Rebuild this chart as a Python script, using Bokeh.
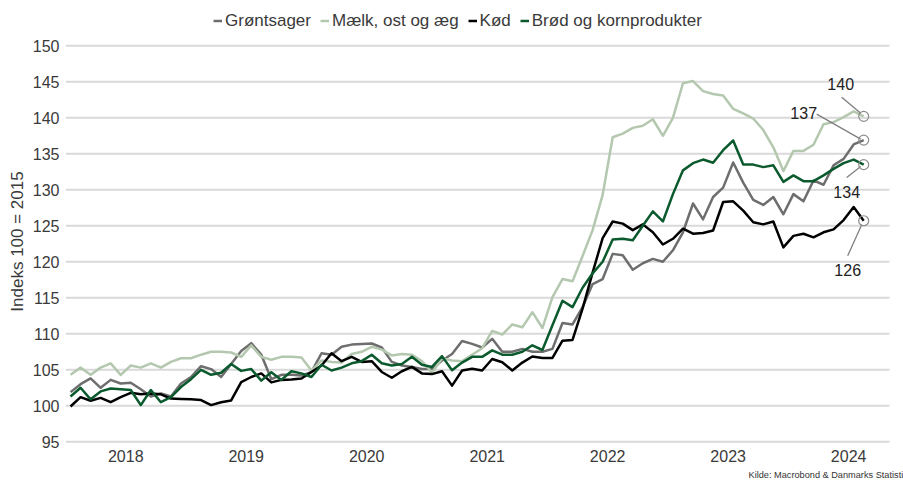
import numpy as np
from bokeh.plotting import figure
from bokeh.models import Legend, LegendItem, FixedTicker, Label, Range1d
from bokeh.embed import file_html
from bokeh.resources import INLINE
from bokeh.core.properties import value

# ---------------- data (monthly, Jan 2018 - Aug 2024, index 100 = 2015) ----------------
years = ["2018", "2019", "2020", "2021", "2022", "2023", "2024"]
series_names = ["Grøntsager", "Mælk, ost og æg", "Kød", "Brød og kornprodukter"]
y_ticks = [95, 100, 105, 110, 115, 120, 125, 130, 135, 140, 145, 150]

groentsager = [101.9, 103.0, 103.8, 102.5, 103.6, 103.1, 103.2, 102.3, 101.3, 101.7, 101.3, 103.1,
               104.0, 105.5, 105.1, 104.0, 105.8, 107.6, 108.7, 107.1, 103.7, 104.3, 104.3, 104.2,
               104.7, 107.3, 107.1, 108.2, 108.5, 108.6, 108.65, 108.1, 106.1, 105.6, 105.4, 105.1,
               105.1, 106.3, 107.2, 109.0, 108.6, 108.1, 109.3, 107.5, 107.5, 107.9, 107.5, 107.5,
               107.9, 111.5, 111.3, 113.7, 116.9, 117.6, 121.1, 120.9, 118.9, 119.8, 120.4, 120.0,
               121.6, 124.1, 128.1, 125.9, 129.0, 130.3, 133.8, 131.0, 128.6, 127.9, 129.0, 126.6,
               129.4, 128.4, 131.3, 130.7, 133.4, 134.3, 136.3, 136.9]

maelk = [104.3, 105.3, 104.3, 105.3, 105.9, 104.3, 105.6, 105.3, 105.9, 105.3, 106.1, 106.6,
         106.6, 107.1, 107.5, 107.5, 107.4, 106.8, 108.4, 106.8, 106.4, 106.8, 106.8, 106.7,
         104.9, 106.3, 106.1, 106.0, 107.2, 107.5, 108.2, 107.8, 107.0, 107.2, 107.1, 106.2,
         104.6, 106.6, 106.3, 106.2, 107.1, 108.0, 110.4, 109.9, 111.3, 110.9, 113.0, 110.8,
         115.1, 117.6, 117.3, 120.8, 124.4, 129.3, 137.3, 137.8, 138.6, 138.9, 139.8, 137.5,
         140.0, 144.8, 145.1, 143.7, 143.3, 143.1, 141.25, 140.6, 139.9, 138.3, 135.9, 132.6,
         135.4, 135.4, 136.25, 139.1, 139.4, 140.1, 140.9, 140.2]

koed = [99.9, 101.2, 100.7, 101.1, 100.5, 101.2, 101.8, 101.6, 101.7, 101.6, 101.0, 100.95,
        100.9, 100.8, 100.1, 100.5, 100.75, 103.3, 104.0, 104.5, 103.25, 103.6, 103.65, 103.8,
        104.7, 105.6, 107.3, 106.2, 106.8, 106.1, 106.2, 104.7, 103.9, 104.8, 105.4, 104.5,
        104.4, 104.8, 102.8, 104.9, 105.15, 104.9, 106.5, 106.05, 104.9, 106.0, 106.85, 106.65,
        106.65, 109.05, 109.15, 113.5, 118.5, 123.3, 125.6, 125.3, 124.4, 125.2, 124.1, 122.4,
        123.2, 124.6, 123.9, 124.0, 124.35, 128.3, 128.4, 127.1, 125.5, 125.2, 125.6, 122.0,
        123.6, 123.9, 123.4, 124.1, 124.5, 125.8, 127.6, 125.7]

broed = [101.3, 102.5, 100.9, 102.0, 102.4, 102.3, 102.2, 100.1, 102.2, 100.5, 101.2, 102.6,
         103.7, 105.0, 104.3, 104.6, 105.8, 104.85, 105.1, 103.5, 104.65, 103.6, 104.8, 104.5,
         104.0, 105.7, 104.9, 105.3, 105.9, 106.2, 107.1, 105.9, 105.6, 105.8, 106.8, 105.7,
         105.4, 106.9, 104.95, 106.0, 106.8, 106.8, 107.7, 107.1, 107.1, 107.5, 108.4, 107.75,
         111.2, 114.6, 113.7, 116.4, 118.4, 120.0, 123.1, 123.2, 123.0, 125.0, 127.0, 125.6,
         129.4, 132.7, 133.7, 134.2, 133.75, 135.5, 136.85, 133.5, 133.5, 133.15, 133.4, 131.1,
         132.0, 131.2, 131.2, 132.0, 132.9, 133.7, 134.2, 133.5]

source_text = "Kilde: Macrobond & Danmarks Statistik"

all_series = [groentsager, maelk, koed, broed]
colors = ["#6e6e6e", "#b4c8af", "#000000", "#0b5a2e"]

# annotation offsets (screen px, relative to the last point): text centre, leader start, leader end
text_off = [(-60, -27), (-23, -32), (-16, 49), (-17, 27)]
lead_start = [(-3, -1), (-3, -3), (-2, 4), (-3, 2)]
lead_end = [(-47, -26), (-22, -19), (-16, 35), (-17, 13)]

# ---------------- geometry ----------------
W, H = 903, 482
ML = 65                               # left panel (y axis)
GRID_TOP, GRID_BOTTOM = 45.3, 441.3   # canvas y of the 150 and 95 grid lines
x_start, x_grid_end = -0.5, 81.57     # Jan 2018 .. plotted area end (months)
GRID_W = 824.0                        # plotted area width in px
FONT = "Liberation Sans"
TXT = "#3a3a3a"

FW = W - ML
pxm = GRID_W / (x_grid_end - x_start)
pxu = (GRID_BOTTOM - GRID_TOP) / (y_ticks[-1] - y_ticks[0])
x_end = x_start + FW / pxm
y_lo = y_ticks[0] - (H - GRID_BOTTOM) / pxu
y_hi = y_ticks[-1] + GRID_TOP / pxu

p = figure(frame_width=FW, frame_height=H, output_backend="svg", toolbar_location=None,
           x_range=Range1d(x_start, x_end), y_range=Range1d(y_lo, y_hi),
           min_border_left=ML, min_border_right=0, min_border_top=0, min_border_bottom=0)
p.outline_line_color = None
p.border_fill_color = "white"
p.background_fill_color = "white"
p.xaxis.visible = False
p.xgrid.visible = False
p.ygrid.visible = False

# horizontal grid lines across the plotted area
p.segment(x0=[x_start] * len(y_ticks), x1=[x_grid_end] * len(y_ticks), y0=y_ticks, y1=y_ticks,
          line_color="#d9d9d9", line_width=2)

x = np.arange(len(groentsager))
renderers = []
for vals, col in zip(all_series, colors):
    r = p.line(x, vals, line_color=col, line_width=2.5, line_join="round")
    renderers.append(r)

# end markers, leader lines and value labels
for k, vals in enumerate(all_series):
    xl, yl = x[-1], vals[-1]
    sx0, sy0 = lead_start[k]
    sx1, sy1 = lead_end[k]
    p.segment(x0=[xl + sx0 / pxm], y0=[yl - sy0 / pxu], x1=[xl + sx1 / pxm], y1=[yl - sy1 / pxu],
              line_color="#7f7f7f", line_width=1.3)
    p.scatter([xl], [yl], size=10, fill_color=None, line_color="#8c8c8c", line_width=1.2)
    tx, ty = text_off[k]
    p.text([xl], [yl], text=[f"{round(yl)}"], x_offset=tx, y_offset=ty,
           text_align="center", text_baseline="middle", text_font=value(FONT),
           text_font_size="16px", text_color="#222222")

# year labels (x axis), centred on each year
year_mid = [12 * k + 5.5 for k in range(len(years))]
p.text(year_mid, [y_ticks[0]] * len(years), text=years, y_offset=14,
       text_align="center", text_baseline="middle", text_font=value(FONT),
       text_font_size="16px", text_color=TXT)

# y axis
p.yaxis.ticker = FixedTicker(ticks=y_ticks)
p.yaxis.axis_line_color = None
p.yaxis.major_tick_line_color = None
p.yaxis.minor_tick_line_color = None
p.yaxis.major_tick_out = 0
p.yaxis.major_tick_in = 0
p.yaxis.minor_tick_out = 0
p.yaxis.minor_tick_in = 0
p.yaxis.major_label_text_font = FONT
p.yaxis.major_label_text_font_size = "16px"
p.yaxis.major_label_text_color = TXT
p.yaxis.major_label_standoff = 6
p.yaxis.axis_label = "Indeks 100 = 2015"
p.yaxis.axis_label_text_font = FONT
p.yaxis.axis_label_text_font_size = "17px"
p.yaxis.axis_label_text_font_style = "normal"
p.yaxis.axis_label_text_color = TXT
p.yaxis.axis_label_standoff = 3

# legend at the top
items = [LegendItem(label=n, renderers=[r]) for n, r in zip(series_names, renderers)]
legend = Legend(items=items, orientation="horizontal", location=(148, H - 30.5),
                glyph_width=9, glyph_height=17, label_height=17, label_standoff=3,
                spacing=9, padding=0, margin=0, border_line_color=None,
                background_fill_alpha=0, label_text_font=FONT,
                label_text_font_size="17px", label_text_color=TXT)
p.add_layout(legend, "center")

# source note
src = Label(x=683, y=8, x_units="screen", y_units="screen", text=source_text,
            text_font=FONT, text_font_size="9.2px", text_color="#333333",
            text_baseline="middle")
p.add_layout(src)

open("out.html", "w").write(file_html(p, INLINE))
